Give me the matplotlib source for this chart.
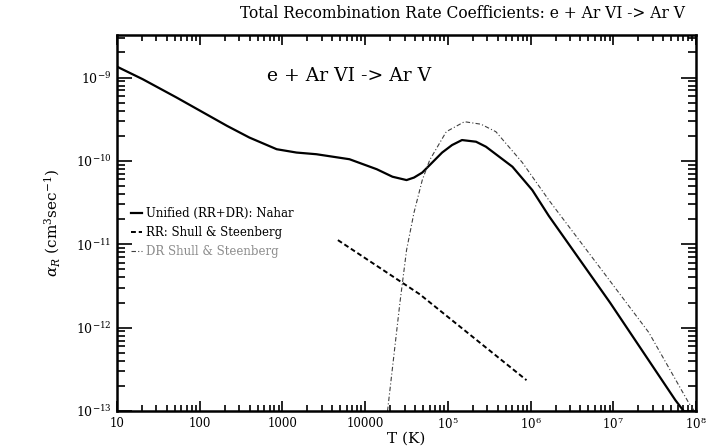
"""Total recombination rate coefficients for e + Ar VI -> Ar V (log-log)."""
import matplotlib
matplotlib.use("Agg")
import matplotlib.pyplot as plt
from matplotlib.ticker import FixedLocator, FixedFormatter, LogLocator, NullFormatter

plt.rcParams["font.family"] = ["DejaVu Serif"]
plt.rcParams["mathtext.fontset"] = "dejavuserif"

# values, as log10(T) and log10(alpha)
total_logT = [1.00, 1.31, 1.72, 2.33, 2.60, 2.93, 3.17, 3.41, 3.81, 4.14, 4.33,
              4.50, 4.59, 4.69, 4.81, 4.93, 5.05, 5.17, 5.34, 5.46, 5.78, 6.02,
              6.22, 6.96, 7.75, 7.85]
total_loga = [-8.87, -9.02, -9.24, -9.58, -9.72, -9.86, -9.90, -9.92, -9.98, -10.10, -10.19,
              -10.23, -10.20, -10.14, -10.02, -9.90, -9.81, -9.75, -9.77, -9.83, -10.07, -10.35,
              -10.66, -11.70, -12.87, -13.00]

rr_logT = [3.67, 4.66, 5.95]
rr_loga = [-10.95, -11.60, -12.63]

dr_logT = [4.27, 4.33, 4.42, 4.50, 4.59, 4.69, 4.78, 4.98, 5.20, 5.40, 5.58,
           5.90, 6.22, 6.38, 6.83, 7.43, 7.91, 7.98]
dr_loga = [-13.0, -12.48, -11.70, -11.07, -10.62, -10.23, -9.99, -9.65, -9.53, -9.56, -9.65,
           -10.02, -10.47, -10.68, -11.27, -12.06, -12.90, -13.0]

xtick_vals = [1e1, 1e2, 1e3, 1e4, 1e5, 1e6, 1e7, 1e8]
xtick_labels = ["10", "100", "1000", "10000", r"10$^5$", r"10$^6$", r"10$^7$", r"10$^8$"]
ytick_vals = [1e-13, 1e-12, 1e-11, 1e-10, 1e-9]
ytick_labels = [r"10$^{-13}$", r"10$^{-12}$", r"10$^{-11}$", r"10$^{-10}$", r"10$^{-9}$"]


def tolin(vals):
    return [10 ** v for v in vals]


fig = plt.figure(figsize=(7.11, 4.47), dpi=100)
ax = fig.add_axes([0.1646, 0.0805, 0.8144, 0.8412])

ax.plot(tolin(total_logT), tolin(total_loga), color="black", lw=1.6,
        label="Unified (RR+DR): Nahar")
ax.plot(tolin(rr_logT), tolin(rr_loga), color="black", lw=1.4, ls=(0, (2.5, 1.5)),
        label="RR: Shull & Steenberg")
ax.plot(tolin(dr_logT), tolin(dr_loga), color="0.25", lw=0.8, ls=(0, (4, 2, 1, 2)),
        label="DR Shull & Steenberg")

ax.set_xscale("log")
ax.set_yscale("log")
ax.set_xlim(1e1, 1e8)
ax.set_ylim(1e-13, 10 ** -8.49)

ax.xaxis.set_major_locator(FixedLocator(xtick_vals))
ax.xaxis.set_major_formatter(FixedFormatter(xtick_labels))
ax.yaxis.set_major_locator(FixedLocator(ytick_vals))
ax.yaxis.set_major_formatter(FixedFormatter(ytick_labels))
ax.xaxis.set_minor_locator(LogLocator(base=10, subs=range(2, 10), numticks=20))
ax.yaxis.set_minor_locator(LogLocator(base=10, subs=range(2, 10), numticks=20))
ax.xaxis.set_minor_formatter(NullFormatter())
ax.yaxis.set_minor_formatter(NullFormatter())

ax.tick_params(which="both", direction="in", top=True, right=True, width=1.2)
ax.tick_params(axis="y", which="major", length=11, pad=4, labelsize=9)
ax.tick_params(axis="y", which="minor", length=6)
ax.tick_params(axis="x", which="major", length=7, pad=4, labelsize=8.5)
ax.tick_params(axis="x", which="minor", length=4)
for sp in ax.spines.values():
    sp.set_linewidth(1.8)

fig.text(0.571, 0.018, "T (K)", ha="center", va="center", fontsize=11)
ax.set_ylabel(r"$\alpha_R$ (cm$^3$sec$^{-1}$)", fontsize=11, labelpad=10)

ax.text(0.40, 0.89, "e + Ar VI -> Ar V", transform=ax.transAxes,
        ha="center", va="center", fontsize=13.5)
fig.text(0.338, 0.969, "Total Recombination Rate Coefficients: e + Ar VI -> Ar V",
         ha="left", va="center", fontsize=11.2)

leg = ax.legend(loc="upper left", bbox_to_anchor=(0.005, 0.57), frameon=False,
                fontsize=8.5, handlelength=1.0, handletextpad=0.3, labelspacing=0.5)
for txt, col in zip(leg.get_texts(), ["black", "black", "0.55"]):
    txt.set_color(col)

fig.savefig("out.png", dpi=100)
